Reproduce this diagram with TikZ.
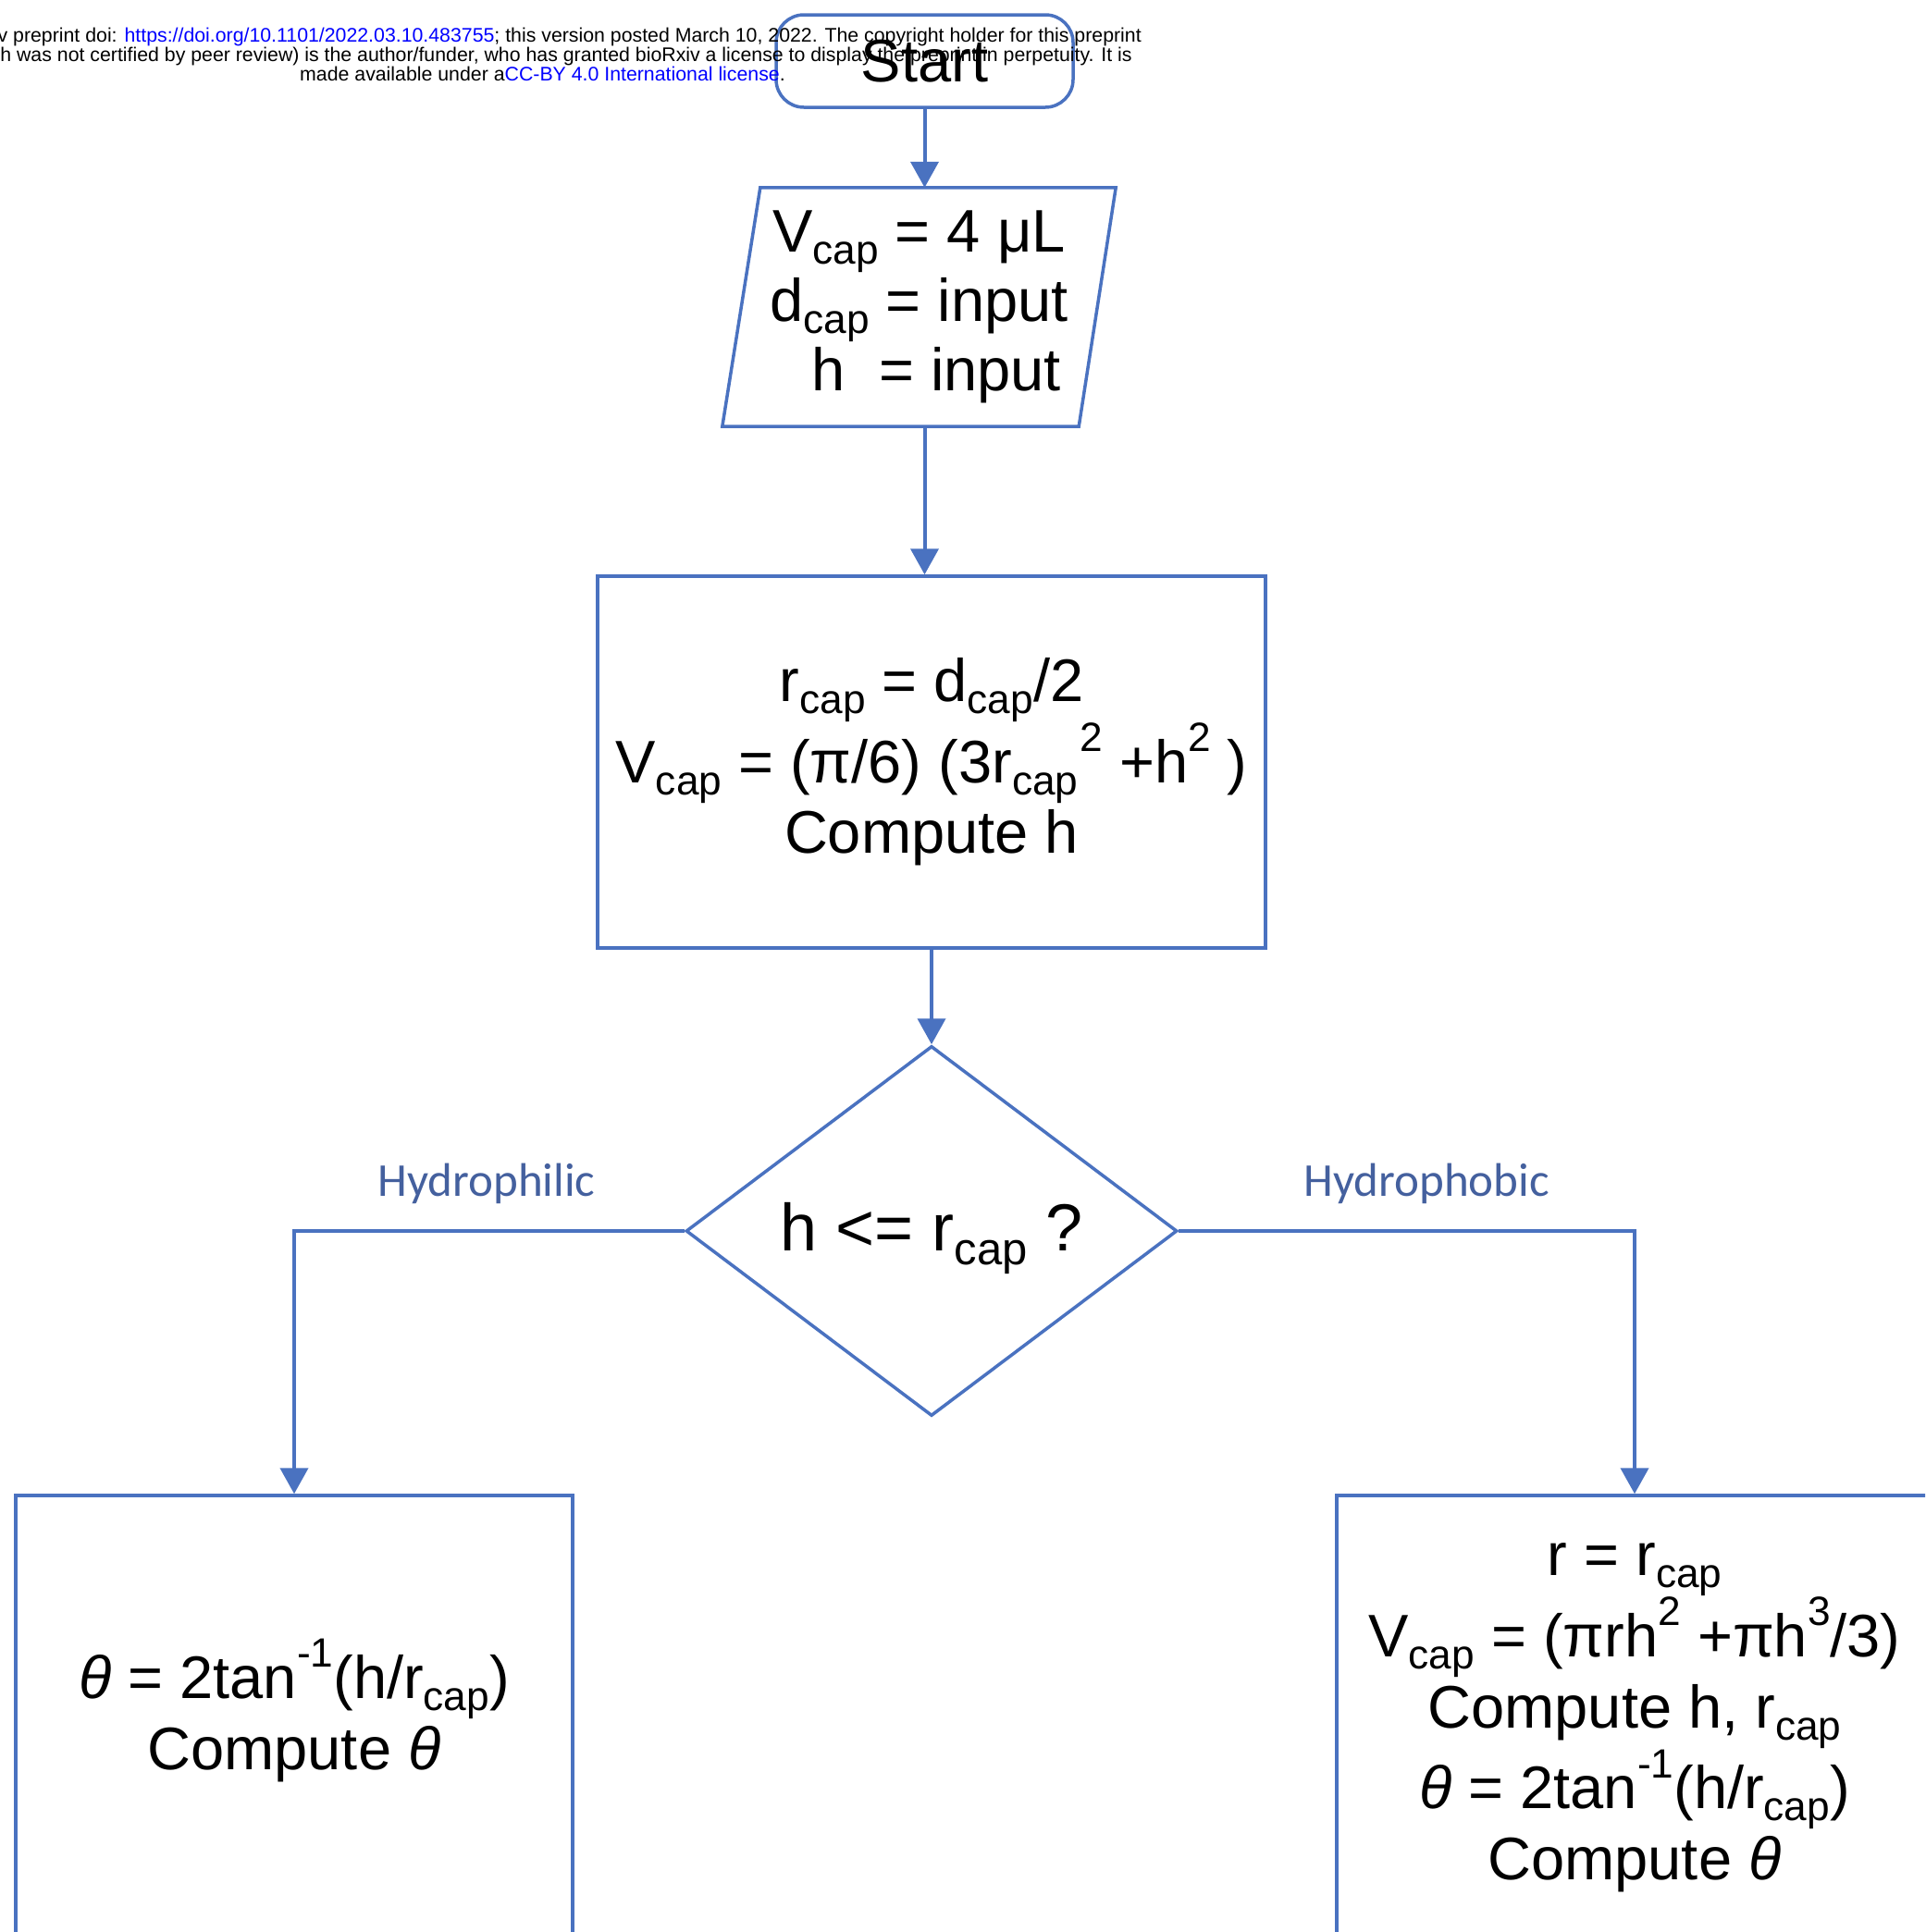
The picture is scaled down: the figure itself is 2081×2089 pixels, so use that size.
\documentclass[tikz,border=0pt]{standalone}
\usepackage{fontspec}
\setmainfont{Liberation Sans}
\newfontfamily\calib{Carlito}
\usepackage{graphicx}
\usetikzlibrary{arrows.meta,shapes.geometric}

\definecolor{ln}{HTML}{4A72C0}
\definecolor{lbl}{HTML}{44609E}
\definecolor{lnk}{HTML}{0000FF}

\newcommand{\subx}[1]{\raisebox{-0.2em}{\scalebox{0.68}{#1}}}
\newcommand{\supx}[1]{\raisebox{0.52em}{\scalebox{0.68}{#1}}}

\begin{document}
\begin{tikzpicture}[x=1pt,y=-1pt,
  box/.style={draw=ln, line width=3.5pt},
  conn/.style={draw=ln, line width=4pt, -{Triangle[width=30pt,length=28pt]}},
  txt/.style={font=\fontsize{65}{77}\selectfont, align=center, text=black},
  lab/.style={font=\calib\fontsize{51}{60}\selectfont, text=lbl, inner sep=0pt},
  hdr/.style={font=\fontsize{21.3}{21}\selectfont, inner sep=0pt, text=black}
]
\useasboundingbox (0,0) rectangle (2081,2089);
\clip (0,0) rectangle (2081,2089);

% nodes
\node[box, rounded corners=30pt, minimum width=321pt, minimum height=100pt, txt] (start) at (999.5,66) {Start};

\node[minimum width=425pt, minimum height=258pt, inner sep=0pt, txt, font=\fontsize{65}{75}\selectfont] (inp) at (993.5,332)
  {V\subx{cap} = 4 μL\\ d\subx{cap} = input\\ \hspace*{38pt}h\ \ = input};
\draw[box] ([xshift=41pt]inp.north west) -- (inp.north east) -- ([xshift=-40pt]inp.south east) -- (inp.south west) -- cycle;

\node[box, minimum width=722pt, minimum height=402pt, txt, font=\fontsize{65}{76}\selectfont] (calc) at (1007,824)
  {r\subx{cap} = d\subx{cap}/2\\ V\subx{cap} = (π/6) (3r\subx{cap}\supx{\hspace{3pt}2} +h\supx{2} )\\ Compute h};

\node[box, diamond, aspect=1.33, minimum width=531pt, minimum height=400pt, inner sep=0pt] (dec) at (1007,1331) {};
\node[txt, font=\fontsize{72}{80}\selectfont, inner sep=0pt] (dectxt) at ([yshift=-8pt]dec.center) {h <= r\subx{cap} ?};

\node[box, minimum width=602pt, minimum height=481pt, txt] (phil) at (318,1857.5) {};
\node[txt, inner sep=0pt] (philtxt) at ([yshift=8pt]phil.center)
  {\textit{θ} = 2tan\supx{-1}(h/r\subx{cap})\\ Compute \textit{θ}};

\node[box, minimum width=644pt, minimum height=481pt, txt] (phob) at (1767,1857.5)
  {r = r\subx{cap}\\ V\subx{cap} = (πrh\supx{2} +πh\supx{3}/3)\\ Compute h, r\subx{cap}\\ \textit{θ} = 2tan\supx{-1}(h/r\subx{cap})\\ Compute \textit{θ}};

% connectors
\draw[conn] (start) -- (start |- inp.north);
\draw[conn] (start |- inp.south) -- (start |- calc.north);
\draw[conn] (calc) -- (dec);
\draw[conn] (dec.west) -- (dec.west -| phil.north) -- (phil.north);
\draw[conn] (dec.east) -- (dec.east -| phob.north) -- (phob.north);

% labels
\node[lab, anchor=base] (lphil) at (526,1293) {Hydrophilic};
\node[lab, anchor=base] (lphob) at (1542,1293) {Hydrophobic};

% header
\node[hdr, anchor=base east] (h1) at (1234,45) {v preprint doi: \textcolor{lnk}{https://doi.org/10.1101/2022.03.10.483755}; this version posted March 10, 2022. The copyright holder for this preprint};
\node[hdr, anchor=base east] (h2) at (1224,66) {h was not certified by peer review) is the author/funder, who has granted bioRxiv a license to display the preprint in perpetuity. It is};
\node[hdr, anchor=base] (h3) at (586.5,87) {made available under a\textcolor{lnk}{CC-BY 4.0 International license}.};
\end{tikzpicture}
\end{document}
